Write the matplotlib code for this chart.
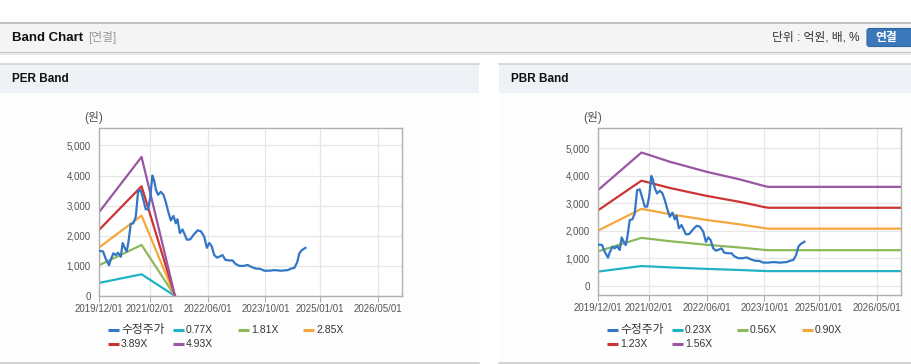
import numpy as np
import pandas as pd
import matplotlib
matplotlib.use('Agg')
import matplotlib.pyplot as plt
from matplotlib.patches import Rectangle, FancyBboxPatch

plt.rcParams['font.family'] = ['Liberation Sans', 'Noto Sans CJK KR', 'DejaVu Sans']

# 수정주가 (adjusted price)
price_dates = ['2019-12-01', '2020-01-04', '2020-01-26', '2020-02-23', '2020-03-08', '2020-03-31',
               '2020-04-19', '2020-05-09', '2020-06-01', '2020-06-17', '2020-07-04', '2020-07-21',
               '2020-08-04', '2020-08-24', '2020-09-15', '2020-10-05', '2020-10-25', '2020-11-16',
               '2020-12-09', '2020-12-28', '2021-01-17', '2021-02-03', '2021-02-22', '2021-03-08',
               '2021-03-23', '2021-04-11', '2021-05-04', '2021-05-26', '2021-06-15', '2021-07-04',
               '2021-07-27', '2021-08-18', '2021-09-07', '2021-09-21', '2021-10-11', '2021-11-02',
               '2021-11-22', '2021-12-09', '2022-01-06', '2022-02-03', '2022-03-09', '2022-04-06',
               '2022-05-04', '2022-05-26', '2022-06-15', '2022-07-05', '2022-07-27', '2022-08-19',
               '2022-09-16', '2022-10-05', '2022-10-28', '2022-12-01', '2022-12-29', '2023-01-17',
               '2023-02-23', '2023-03-31', '2023-05-04', '2023-06-07', '2023-07-13', '2023-08-19',
               '2023-09-21', '2023-11-03', '2023-12-15', '2024-02-09', '2024-04-05', '2024-05-03',
               '2024-05-31', '2024-06-23', '2024-07-12', '2024-08-01', '2024-09-01']
price = [1500, 1480, 1240, 1020, 1200, 1420,
         1360, 1440, 1300, 1760, 1600, 1480,
         1780, 2390, 2415, 2630, 3480, 3510,
         3180, 2880, 2880, 3240, 4000, 3850,
         3540, 3360, 3460, 3360, 3120, 2815,
         2510, 2660, 2415, 2550, 2090, 2210,
         2030, 1870, 1880, 2030, 2180, 2150,
         1970, 1600, 1760, 1660, 1360, 1275,
         1320, 1360, 1200, 1180, 1180, 1080,
         1000, 1000, 1030, 960, 910, 900,
         840, 840, 860, 840, 860, 910,
         935, 1115, 1420, 1520, 1600]

# EPS for the PER band
eps_dates = ['2019-12-01', '2020-11-23', '2021-08-31']
eps = [564, 937, 0]
per_multiples = [0.77, 1.81, 2.85, 3.89, 4.93]

# BPS for the PBR band
bps_dates = ['2019-12-01', '2020-11-30', '2021-02-08', '2021-07-27', '2022-06-01',
             '2023-03-09', '2023-09-30', '2023-11-03', '2026-11-22']
bps = [2231, 3109, 3049, 2894, 2660, 2481, 2327, 2308, 2308]
pbr_multiples = [0.23, 0.56, 0.90, 1.23, 1.56]

tick_dates = ['2019/12/01', '2021/02/01', '2022/06/01', '2023/10/01', '2025/01/01', '2026/05/01']

price_color = '#3476c6'
band_colors = ['#1fb3c4', '#8db85a', '#f4a83c', '#cc3333', '#9a55a3']

W, H = 912, 364
fig = plt.figure(figsize=(W / 100, H / 100), dpi=100)
fig.patch.set_facecolor('white')

# pixel-coordinate background layer
bg = fig.add_axes([0, 0, 1, 1])
bg.set_xlim(0, W)
bg.set_ylim(H, 0)
bg.axis('off')

# top header bar
bg.add_patch(Rectangle((0, 23), W, 29, facecolor='#f4f4f4', edgecolor='none'))
bg.plot([0, W], [22.5, 22.5], color='#b5b5b5', lw=1.2)
bg.plot([0, W], [52.5, 52.5], color='#c8c8c8', lw=1.5)
bg.plot([0, W], [54, 54], color='#e8e8e8', lw=1.5)
bg.text(12, 38, 'Band Chart', fontsize=9.5, fontweight='bold', color='#111111', va='center')
bg.text(88, 38, '[연결]', fontsize=8.5, color='#999999', va='center')
bg.text(860, 38, '단위 : 억원, 배, %', fontsize=8.5, color='#333333', va='center', ha='right')
bg.add_patch(FancyBboxPatch((867, 28.5), 50, 18, boxstyle='round,pad=0,rounding_size=2.5',
                            facecolor='#3a78ba', edgecolor='#2f67a3', lw=0.8))
bg.text(886, 38, '연결', fontsize=8.5, fontweight='bold', color='white', va='center', ha='center')

# panel headers
for x0, x1, title in [(0, 479, 'PER Band'), (499, W, 'PBR Band')]:
    bg.add_patch(Rectangle((x0, 64), x1 - x0, 29, facecolor='#eef1f6', edgecolor='none'))
    bg.add_patch(Rectangle((x0, 93), x1 - x0, 270, facecolor='#fdfdfd', edgecolor='none'))
    bg.plot([x0, x1], [63.5, 63.5], color='#d2d2d2', lw=1.2)
    bg.plot([x0, x1], [363, 363], color='#cccccc', lw=1.2)
    bg.text(x0 + 12, 79, title, fontsize=8.5, fontweight='bold', color='#111111', va='center')


def px_axes(x0, y0, x1, y1):
    return fig.add_axes([x0 / W, 1 - y1 / H, (x1 - x0) / W, (y1 - y0) / H])


def band_chart(ax, base_dates, base, multiples, ylim, leg_x):
    ax.set_facecolor('white')
    ax.plot(pd.to_datetime(price_dates), price, color=price_color, lw=1.6, zorder=3)
    for m, c in zip(multiples, band_colors):
        ax.plot(pd.to_datetime(base_dates), np.array(base) * m, color=c, lw=1.6, zorder=2)
    ax.set_xlim(pd.Timestamp('2019-12-01'), pd.Timestamp('2026-11-22'))
    ax.set_ylim(*ylim)
    ax.set_xticks(pd.to_datetime(tick_dates))
    ax.set_xticklabels(tick_dates)
    ax.set_yticks([0, 1000, 2000, 3000, 4000, 5000])
    ax.set_yticklabels(['0', '1,000', '2,000', '3,000', '4,000', '5,000'])
    ax.grid(True, color='#e6e6e6', lw=0.9)
    ax.set_axisbelow(True)
    for s in ax.spines.values():
        s.set_color('#b0b0b0')
        s.set_linewidth(1.0)
    ax.tick_params(axis='x', length=4, color='#b0b0b0', labelsize=7, labelcolor='#555555', pad=2)
    ax.tick_params(axis='y', length=0, labelsize=7, labelcolor='#555555', pad=6)

    # legend
    labels = ['수정주가'] + ['%.2fX' % m for m in multiples]
    colors = [price_color] + band_colors
    for i, (lab, c) in enumerate(zip(labels, colors)):
        lx = leg_x + 65 * (i % 4)
        ly = 330 + 14 * (i // 4)
        bg.plot([lx, lx + 11], [ly, ly], color=c, lw=2.2, solid_capstyle='butt')
        size = 8.5 if i == 0 else 7.5
        bg.text(lx + 13, ly, lab, fontsize=size, color='#333333', va='center')


ax1 = px_axes(99, 128, 402, 296)
band_chart(ax1, eps_dates, eps, per_multiples, (0, 5580), 108)
bg.text(94, 118, '(원)', fontsize=8.5, color='#555555', va='center', ha='center')

ax2 = px_axes(598, 128, 901, 295)
band_chart(ax2, bps_dates, bps, pbr_multiples, (-340, 5745), 607)
bg.text(593, 118, '(원)', fontsize=8.5, color='#555555', va='center', ha='center')

fig.savefig('out.png', dpi=100)
